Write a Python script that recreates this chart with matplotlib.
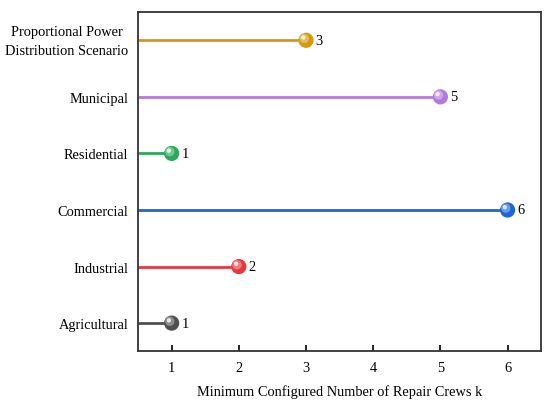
import numpy as np
import matplotlib.pyplot as plt
import matplotlib.transforms as mtransforms
from matplotlib.colors import to_rgb

plt.rcParams['font.family'] = ['Liberation Serif', 'DejaVu Serif']

# Data
categories = ['Agricultural', 'Industrial', 'Commercial', 'Residential',
              'Municipal', 'Proportional Power\nDistribution Scenario']
values = [1, 2, 6, 1, 5, 3]
colors = ['#505050', '#e8383a', '#1a66d8', '#2ea85c', '#b478e0', '#d49a0a']


def lighten(c, f):
    r, g, b = to_rgb(c)
    return (r + (1 - r) * f, g + (1 - g) * f, b + (1 - b) * f)


fig, ax = plt.subplots(figsize=(5.5, 4.06), dpi=100)
fig.subplots_adjust(left=0.251, right=0.984, top=0.968, bottom=0.132)

fs = 10.4
y = np.arange(len(categories))
for yi, v, c in zip(y, values, colors):
    ax.plot([0.5, v], [yi, yi], color=c, lw=2, zorder=2, solid_capstyle='butt')
    ax.scatter([v], [yi], s=120, color=c, zorder=3, edgecolors='none')
    # fake 3D shading
    hl = mtransforms.offset_copy(ax.transData, fig=fig, x=-1.3, y=1.3, units='points')
    ax.scatter([v], [yi], s=45, color=lighten(c, 0.35), zorder=4,
               edgecolors='none', transform=hl)
    hl2 = mtransforms.offset_copy(ax.transData, fig=fig, x=-2.0, y=2.0, units='points')
    ax.scatter([v], [yi], s=10, color=lighten(c, 0.85), zorder=5,
               edgecolors='none', transform=hl2)
    ax.annotate(str(v), (v, yi), xytext=(7, 0), textcoords='offset points',
                ha='left', va='center', fontsize=fs)

ax.set_xlim(0.5, 6.5)
ax.set_ylim(-0.5, len(categories) - 0.5)
ax.set_xticks([1, 2, 3, 4, 5, 6])
ax.set_yticks(y)
# multi-line labels drawn by hand so they can be centred properly
ax.set_yticklabels(['' if '\n' in c else c for c in categories], fontsize=fs)
ytrans = mtransforms.blended_transform_factory(ax.transAxes, ax.transData)
for yi, c in zip(y, categories):
    if '\n' in c:
        ax.annotate(c, (0, yi), xycoords=ytrans, xytext=(-7, -0.5),
                    textcoords='offset points', ha='right', va='center',
                    multialignment='center', linespacing=1.6, fontsize=fs)
ax.tick_params(axis='x', direction='in', length=4, width=1.2, labelsize=fs, pad=7)
ax.tick_params(axis='y', length=0, pad=7)
ax.set_xlabel('Minimum Configured Number of Repair Crews k', fontsize=fs, labelpad=7)
for s in ax.spines.values():
    s.set_linewidth(1.3)
    s.set_color('#333333')

fig.savefig('out.png', dpi=100)
